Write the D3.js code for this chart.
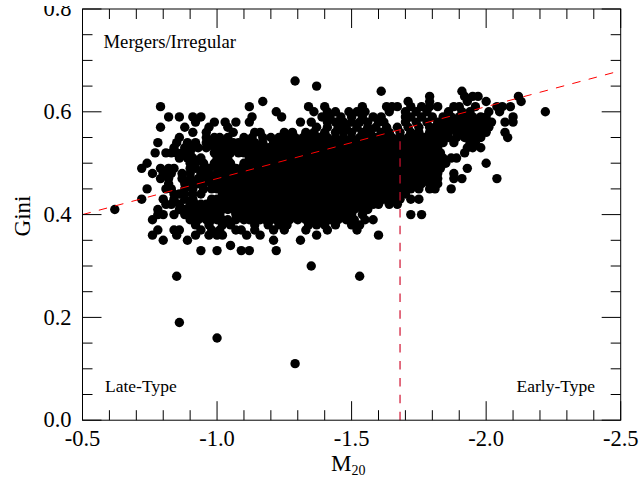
<!DOCTYPE html>
<html>
<head>
<meta charset="utf-8">
<script src="https://d3js.org/d3.v7.min.js"></script>
<style>
  html, body { margin: 0; padding: 0; background: #fff; }
  svg { display: block; }
  text { font-family: "Liberation Serif", serif; fill: #000; }
</style>
</head>
<body>
<div class="chart"></div>
<script>
// tick values and labels
const xMajor = [-0.5, -1.0, -1.5, -2.0, -2.5];
const xMinor = [-0.6, -0.7, -0.8, -0.9, -1.1, -1.2, -1.3, -1.4, -1.6, -1.7, -1.8, -1.9, -2.1, -2.2, -2.3, -2.4];
const yMajor = [0, 0.2, 0.4, 0.6, 0.8];
const yMinor = [0.05, 0.1, 0.15, 0.25, 0.3, 0.35, 0.45, 0.5, 0.55, 0.65, 0.7, 0.75];

// classification lines
const mergerLineM = [-0.5, -2.5];
const mergerLineG = [0.40, 0.68];
const typeLineM = [-1.68, -1.68];
const typeLineG = [0, 0.565];

const giniLevels = [0.66, 0.65, 0.64, 0.63, 0.62, 0.61, 0.60, 0.59, 0.58, 0.57, 0.56, 0.55, 0.54, 0.53, 0.52, 0.51, 0.50, 0.49, 0.48, 0.47, 0.46, 0.45, 0.44, 0.43, 0.42, 0.41, 0.40, 0.39, 0.38, 0.37, 0.36, 0.35, 0.34, 0.33, 0.30, 0.28, 0.19, 0.16, 0.11];
const m20Values = [
  [-1.29],
  [-1.37],
  [-1.61, -1.91],
  [-1.79, -1.92, -1.95, -1.97, -2.12],
  [-1.17, -1.71, -1.79, -1.93, -2.00, -2.13],
  [-0.79, -1.12, -1.34, -1.40, -1.54, -1.63, -1.65, -1.67, -1.72, -1.76, -1.79, -1.82, -1.88, -1.90, -1.96, -2.04, -2.06, -2.09],
  [-1.22, -1.36, -1.41, -1.44, -1.49, -1.52, -1.55, -1.64, -1.70, -1.74, -1.78, -1.86, -1.91, -1.94, -2.01, -2.05, -2.22],
  [-0.82, -0.86, -0.91, -0.94, -1.13, -1.24, -1.39, -1.42, -1.46, -1.50, -1.54, -1.58, -1.61, -1.70, -1.72, -1.76, -1.84, -1.90, -1.95, -1.98, -2.10],
  [-0.92, -0.99, -1.03, -1.07, -1.12, -1.31, -1.35, -1.41, -1.44, -1.47, -1.50, -1.53, -1.56, -1.60, -1.62, -1.70, -1.74, -1.78, -1.82, -1.86, -1.90, -1.94, -1.98, -2.02, -2.07, -2.10],
  [-0.79, -0.88, -0.97, -1.04, -1.37, -1.41, -1.45, -1.48, -1.52, -1.56, -1.59, -1.63, -1.67, -1.71, -1.75, -1.79, -1.83, -1.87, -1.90, -1.94, -1.99],
  [-0.91, -0.96, -1.06, -1.14, -1.16, -1.25, -1.28, -1.33, -1.36, -1.40, -1.44, -1.47, -1.50, -1.54, -1.57, -1.61, -1.64, -1.68, -1.72, -1.75, -1.79, -1.83, -1.86, -1.89, -1.93, -1.97, -2.00, -2.07],
  [-0.86, -1.01, -1.10, -1.13, -1.17, -1.20, -1.23, -1.26, -1.29, -1.32, -1.35, -1.38, -1.41, -1.44, -1.47, -1.50, -1.53, -1.56, -1.59, -1.62, -1.65, -1.68, -1.71, -1.74, -1.77, -1.80, -1.83, -1.86, -1.89, -1.92, -1.96, -2.08],
  [-0.78, -0.85, -0.89, -0.92, -0.96, -1.00, -1.04, -1.08, -1.11, -1.14, -1.17, -1.21, -1.24, -1.27, -1.30, -1.33, -1.36, -1.39, -1.42, -1.45, -1.48, -1.51, -1.54, -1.57, -1.60, -1.63, -1.66, -1.69, -1.72, -1.75, -1.78, -1.81, -1.84, -1.88, -1.94],
  [-0.84, -0.88, -0.93, -0.99, -1.02, -1.06, -1.10, -1.13, -1.16, -1.19, -1.22, -1.25, -1.28, -1.31, -1.34, -1.37, -1.40, -1.43, -1.46, -1.49, -1.52, -1.55, -1.58, -1.61, -1.64, -1.67, -1.70, -1.73, -1.76, -1.79, -1.82, -1.93, -1.95, -1.98],
  [-0.77, -0.81, -0.83, -0.87, -0.90, -0.99, -1.03, -1.08, -1.12, -1.16, -1.20, -1.23, -1.26, -1.29, -1.32, -1.35, -1.38, -1.41, -1.44, -1.47, -1.50, -1.53, -1.56, -1.59, -1.62, -1.65, -1.68, -1.71, -1.74, -1.77, -1.80, -1.83, -1.92],
  [-0.89, -0.94, -1.00, -1.04, -1.12, -1.15, -1.18, -1.21, -1.24, -1.27, -1.30, -1.33, -1.36, -1.39, -1.42, -1.45, -1.48, -1.51, -1.54, -1.57, -1.60, -1.63, -1.66, -1.69, -1.72, -1.75, -1.78, -1.81, -1.84, -1.87, -1.89],
  [-0.74, -0.92, -0.99, -1.03, -1.10, -1.13, -1.15, -1.19, -1.22, -1.25, -1.28, -1.31, -1.34, -1.37, -1.40, -1.43, -1.46, -1.49, -1.52, -1.55, -1.58, -1.61, -1.64, -1.67, -1.70, -1.73, -1.76, -1.79, -1.82, -1.85, -2.00],
  [-0.72, -0.79, -0.82, -0.92, -0.95, -1.00, -1.03, -1.07, -1.11, -1.14, -1.18, -1.20, -1.23, -1.26, -1.29, -1.32, -1.35, -1.38, -1.41, -1.44, -1.47, -1.50, -1.53, -1.56, -1.59, -1.62, -1.65, -1.68, -1.71, -1.74, -1.77, -1.80, -1.83, -1.93],
  [-0.76, -0.80, -0.83, -0.87, -0.94, -1.00, -1.04, -1.08, -1.12, -1.16, -1.19, -1.22, -1.25, -1.28, -1.31, -1.34, -1.37, -1.40, -1.43, -1.46, -1.49, -1.52, -1.55, -1.58, -1.61, -1.64, -1.67, -1.70, -1.73, -1.76, -1.79, -1.82, -1.88],
  [-0.79, -0.87, -0.93, -0.97, -1.01, -1.05, -1.09, -1.13, -1.17, -1.20, -1.23, -1.26, -1.29, -1.32, -1.35, -1.38, -1.41, -1.44, -1.47, -1.50, -1.53, -1.56, -1.59, -1.62, -1.65, -1.68, -1.71, -1.74, -1.77, -1.80, -1.82, -1.88, -1.91, -2.04],
  [-0.82, -0.91, -0.95, -1.00, -1.03, -1.07, -1.12, -1.16, -1.19, -1.22, -1.25, -1.28, -1.31, -1.34, -1.37, -1.40, -1.43, -1.46, -1.49, -1.52, -1.55, -1.58, -1.61, -1.64, -1.67, -1.70, -1.73, -1.76, -1.79, -1.82],
  [-0.74, -0.83, -0.88, -0.98, -1.02, -1.06, -1.10, -1.14, -1.18, -1.21, -1.24, -1.27, -1.30, -1.33, -1.36, -1.39, -1.42, -1.45, -1.48, -1.51, -1.54, -1.57, -1.60, -1.63, -1.66, -1.69, -1.72, -1.75, -1.79, -1.81, -1.87],
  [-0.84, -0.88, -0.91, -1.04, -1.08, -1.11, -1.15, -1.19, -1.22, -1.25, -1.28, -1.31, -1.34, -1.37, -1.40, -1.43, -1.46, -1.49, -1.52, -1.55, -1.58, -1.61, -1.64, -1.67, -1.70],
  [-0.72, -0.80, -0.88, -1.00, -1.05, -1.09, -1.13, -1.17, -1.20, -1.23, -1.26, -1.29, -1.32, -1.35, -1.38, -1.41, -1.44, -1.47, -1.50, -1.53, -1.56, -1.59, -1.62, -1.65, -1.68, -1.72, -1.75],
  [-0.81, -0.83, -0.90, -0.94, -0.98, -1.02, -1.06, -1.10, -1.14, -1.18, -1.22, -1.25, -1.28, -1.31, -1.34, -1.37, -1.40, -1.43, -1.46, -1.49, -1.52, -1.55, -1.58, -1.60, -1.64, -1.67],
  [-0.62, -0.78, -0.86, -0.88, -0.92, -0.96, -1.00, -1.04, -1.09, -1.12, -1.16, -1.20, -1.24, -1.27, -1.30, -1.33, -1.36, -1.39, -1.42, -1.45, -1.48, -1.51, -1.54, -1.56],
  [-0.78, -0.80, -0.84, -0.90, -0.94, -0.98, -1.07, -1.11, -1.15, -1.19, -1.23, -1.26, -1.29, -1.32, -1.35, -1.38, -1.41, -1.44, -1.47, -1.50, -1.54, -1.72, -1.76],
  [-0.76, -0.90, -0.96, -1.00, -1.04, -1.07, -1.12, -1.16, -1.20, -1.24, -1.27, -1.30, -1.33, -1.36, -1.39, -1.42, -1.45, -1.48, -1.51, -1.55, -1.58],
  [-0.92, -0.97, -1.02, -1.05, -1.14, -1.19, -1.23, -1.26, -1.34, -1.37, -1.40, -1.44, -1.50, -1.53],
  [-0.78, -0.84, -0.86, -0.94, -0.98, -1.01, -1.07, -1.09, -1.14, -1.21, -1.25, -1.33, -1.41, -1.52],
  [-0.76, -0.85, -0.92, -0.97, -1.00, -1.02, -1.11, -1.16, -1.37, -1.60],
  [-0.80, -0.89, -1.21, -1.31],
  [-1.05],
  [-0.94, -1.00, -1.09, -1.12, -1.22],
  [-1.35],
  [-0.85, -1.53],
  [-0.86],
  [-1.00],
  [-1.29]
];

// second pass over the crowded parts of the cloud
const giniExtra = [0.59, 0.58, 0.57, 0.56, 0.55, 0.54, 0.53, 0.52, 0.51, 0.50, 0.49, 0.48, 0.47, 0.46, 0.45, 0.44, 0.43, 0.42, 0.41, 0.40, 0.39];
const m20Extra = [
  [-1.80, -1.87, -1.93, -2.00],
  [-1.84, -1.88, -1.92, -1.96, -2.00],
  [-1.81, -1.85, -1.92, -1.96, -2.01],
  [-1.81, -1.85, -1.91, -1.95],
  [-0.96, -0.99, -1.04, -1.94, -1.98],
  [-0.98, -1.02, -1.06, -1.13, -1.96],
  [-0.91, -0.96, -1.04, -1.08, -1.12],
  [-0.85, -1.01, -1.05, -1.10, -1.14, -1.18],
  [-0.86, -0.91, -1.02, -1.14, -1.17, -1.20, -1.23],
  [-0.90, -0.95, -1.01, -1.05, -1.12, -1.17, -1.21],
  [-0.84, -0.90, -0.97, -1.02, -1.05, -1.09, -1.13, -1.16, -1.22],
  [-0.90, -0.97, -1.02, -1.06, -1.10, -1.14, -1.18, -1.21],
  [-0.82, -0.90, -0.95, -0.99, -1.03, -1.07, -1.11, -1.15, -1.19, -1.22],
  [-0.88, -0.93, -0.98, -1.02, -1.05, -1.09, -1.14, -1.18, -1.21],
  [-0.81, -0.91, -0.95, -1.00, -1.04, -1.08, -1.12, -1.16, -1.20, -1.23],
  [-0.86, -0.94, -1.02, -1.06, -1.10, -1.13, -1.17, -1.20, -1.23],
  [-0.84, -0.91, -0.98, -1.03, -1.07, -1.11, -1.15, -1.19, -1.22],
  [-0.86, -0.92, -0.96, -1.00, -1.04, -1.08, -1.12, -1.16, -1.20],
  [-0.90, -0.94, -0.98, -1.02, -1.06, -1.10, -1.14, -1.18, -1.22],
  [-0.88, -0.92, -0.96, -1.01, -1.09, -1.13, -1.17, -1.21],
  [-0.93, -0.98, -1.02, -1.10, -1.14, -1.18, -1.22]
];

const width = 641, height = 479;
const margin = { left: 82.5, right: 620.7, top: 9, bottom: 420.2 };

// flatten to points
const points = giniLevels.flatMap((g, i) => m20Values[i].map(m => ({ m20: m, gini: g })))
  .concat(giniExtra.flatMap((g, i) => m20Extra[i].map(m => ({ m20: m, gini: g }))));

const x = d3.scaleLinear().domain([-0.5, -2.5]).range([margin.left, margin.right]);
const y = d3.scaleLinear().domain([0, 0.8]).range([margin.bottom, margin.top]);

const svg = d3.select(".chart").append("svg")
  .attr("width", width)
  .attr("height", height);

svg.append("g").selectAll("circle")
  .data(points)
  .enter()
  .append("circle")
  .attr("cx", d => x(d.m20))
  .attr("cy", d => y(d.gini))
  .attr("r", 4.7)
  .attr("fill", "#000");

// dashed lines go on top of the dots
const line = d3.line().x(d => x(d[0])).y(d => y(d[1]));
svg.append("path")
  .attr("d", line(d3.zip(mergerLineM, mergerLineG)))
  .attr("fill", "none").attr("stroke", "#f00").attr("stroke-width", 1)
  .attr("stroke-dasharray", "8.5,8.4");
svg.append("path")
  .attr("d", line(d3.zip(typeLineM, typeLineG)))
  .attr("fill", "none").attr("stroke", "#d01030").attr("stroke-width", 1.2)
  .attr("stroke-dasharray", "8.5,8.4");

// axes: minor + major ticks on all four sides, inward
const fmt = d => d.toFixed(1);
function drawTicks(axisFn, scale, values, size, tx, ty, withLabels, pad) {
  const g = svg.append("g")
    .attr("transform", "translate(" + tx + "," + ty + ")")
    .call(axisFn(scale).offset(0).tickValues(values).tickSize(size).tickSizeOuter(0)
      .tickPadding(pad).tickFormat(withLabels ? fmt : ""));
  g.select(".domain").remove();
  g.selectAll("line").attr("stroke", "#000");
  g.selectAll("text").style("font-family", "Liberation Serif").style("font-size", "22.5px").attr("fill", "#000");
  return g;
}
const L = margin.left, R = margin.right, T = margin.top, B = margin.bottom;
drawTicks(d3.axisBottom, x, xMinor, -10, 0, B, false, 10);
drawTicks(d3.axisBottom, x, xMajor, -19, 0, B, true, 10);
drawTicks(d3.axisTop, x, xMinor, -10, 0, T, false, 10);
drawTicks(d3.axisTop, x, xMajor, -19, 0, T, false, 10);
drawTicks(d3.axisLeft, y, yMinor, -10, L, 0, false, 11);
drawTicks(d3.axisLeft, y, yMajor, -19, L, 0, true, 11);
drawTicks(d3.axisRight, y, yMinor, -10, R, 0, false, 11);
drawTicks(d3.axisRight, y, yMajor, -19, R, 0, false, 11);

svg.append("rect")
  .attr("x", L).attr("y", T)
  .attr("width", R - L).attr("height", B - T)
  .attr("fill", "none").attr("stroke", "#000").attr("stroke-width", 1);

// the reference cuts off the top of the picture
svg.append("rect").attr("x", 0).attr("y", 0).attr("width", width).attr("height", 6).attr("fill", "#fff");

svg.append("text").attr("x", 103.5).attr("y", 48).style("font-size", "18.7px").text("Mergers/Irregular");
svg.append("text").attr("x", 105).attr("y", 391.5).style("font-size", "17.5px").text("Late-Type");
svg.append("text").attr("x", 516.5).attr("y", 391.5).style("font-size", "17.5px").text("Early-Type");

svg.append("text")
  .attr("transform", "translate(30,216) rotate(-90)")
  .attr("text-anchor", "middle")
  .style("font-size", "23px")
  .text("Gini");

const xTitle = svg.append("text").attr("x", 331).attr("y", 471).style("font-size", "23px");
xTitle.append("tspan").text("M");
xTitle.append("tspan").attr("dy", 4).style("font-size", "14px").text("20");
</script>
</body>
</html>
